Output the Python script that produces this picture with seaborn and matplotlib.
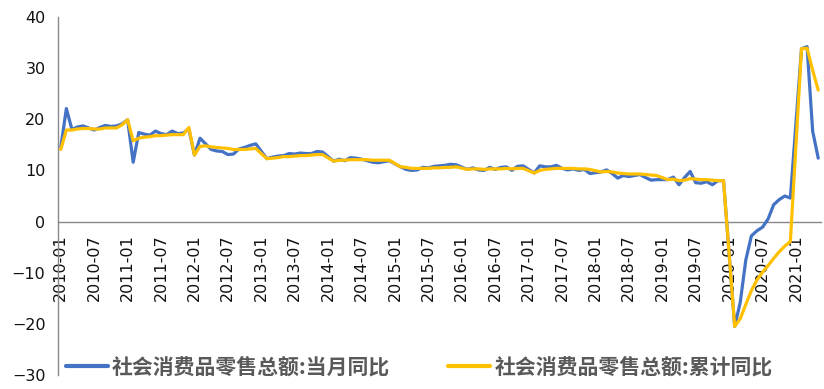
import numpy as np
import pandas as pd
import matplotlib
matplotlib.use("Agg")
from matplotlib import pyplot as plt
from matplotlib.font_manager import FontProperties
import seaborn as sns

nan = np.nan

# months 2010-01 .. 2021-05
months = [f"{y}-{m:02d}" for y in range(2010, 2022) for m in range(1, 13)][:137]

# 社会消费品零售总额:当月同比 (%)
dangyue = [
    14.5, 22.1, 18.0, 18.5, 18.7, 18.3, 17.9, 18.4, 18.8, 18.6, 18.7, 19.1,
    19.9, 11.6, 17.4, 17.1, 16.9, 17.7, 17.2, 17.0, 17.7, 17.2, 17.3, 18.1,
    13.0, 16.3, 15.2, 14.1, 13.8, 13.7, 13.1, 13.2, 14.2, 14.5, 14.9, 15.2,
    nan, 12.3, 12.6, 12.8, 12.9, 13.3, 13.2, 13.4, 13.3, 13.3, 13.7, 13.6,
    nan, 11.8, 12.2, 11.9, 12.5, 12.4, 12.2, 11.9, 11.6, 11.5, 11.7, 11.9,
    nan, 10.7, 10.2, 10.0, 10.1, 10.6, 10.5, 10.8, 10.9, 11.0, 11.2, 11.1,
    nan, 10.2, 10.5, 10.1, 10.0, 10.6, 10.2, 10.6, 10.7, 10.0, 10.8, 10.9,
    nan, 9.5, 10.9, 10.7, 10.7, 11.0, 10.4, 10.1, 10.3, 10.0, 10.2, 9.4,
    nan, 9.7, 10.1, 9.4, 8.5, 9.0, 8.8, 9.0, 9.2, 8.6, 8.1, 8.2,
    nan, 8.2, 8.7, 7.2, 8.6, 9.8, 7.6, 7.5, 7.8, 7.2, 8.0, 8.0,
    nan, -20.5, -15.8, -7.5, -2.8, -1.8, -1.1, 0.5, 3.3, 4.3, 5.0, 4.6,
    nan, 33.8, 34.2, 17.7, 12.4,
]

# 社会消费品零售总额:累计同比 (%)
leiji = [
    14.1, 17.9, 17.9, 18.1, 18.2, 18.2, 18.1, 18.1, 18.3, 18.3, 18.3, 18.9,
    19.9, 15.8, 16.3, 16.5, 16.6, 16.8, 16.8, 16.9, 17.0, 17.0, 17.0, 18.4,
    13.0, 14.7, 14.8, 14.6, 14.5, 14.4, 14.3, 14.1, 14.1, 14.1, 14.2, 14.3,
    nan, 12.3, 12.4, 12.5, 12.7, 12.7, 12.8, 12.9, 12.9, 13.0, 13.1, 13.1,
    nan, 11.8, 12.0, 12.0, 12.1, 12.1, 12.1, 12.1, 12.0, 12.0, 12.0, 12.0,
    nan, 10.7, 10.6, 10.4, 10.4, 10.4, 10.4, 10.5, 10.5, 10.6, 10.6, 10.7,
    nan, 10.2, 10.3, 10.3, 10.2, 10.3, 10.3, 10.3, 10.4, 10.3, 10.4, 10.4,
    nan, 9.5, 10.0, 10.2, 10.3, 10.4, 10.4, 10.4, 10.4, 10.3, 10.3, 10.2,
    nan, 9.7, 9.8, 9.7, 9.5, 9.4, 9.3, 9.3, 9.3, 9.2, 9.1, 9.0,
    nan, 8.2, 8.3, 8.0, 8.1, 8.4, 8.3, 8.2, 8.2, 8.1, 8.0, 8.0,
    nan, -20.5, -19.0, -16.2, -13.5, -11.4, -9.9, -8.6, -7.2, -5.9, -4.8, -3.9,
    nan, 33.8, 33.9, 29.6, 25.7,
]

label_dy = "社会消费品零售总额:当月同比"
label_lj = "社会消费品零售总额:累计同比"

df = pd.DataFrame({"month": months, "dangyue": dangyue, "leiji": leiji})
df["idx"] = np.arange(len(df))

sns.set_style("white")
plt.rcParams["font.family"] = ["DejaVu Sans", "Noto Sans CJK SC"]

fig = plt.figure(figsize=(8.24, 3.89), dpi=100)
ax = fig.add_axes([58 / 824, 1 - 375 / 389, (821 - 58) / 824, (375 - 17) / 389])

# x axis crosses at 0 (set before tick styling, it resets the ticks)
for s in ["top", "right"]:
    ax.spines[s].set_visible(False)
ax.spines["bottom"].set_position(("data", 0))
for s in ["left", "bottom"]:
    ax.spines[s].set_color("#898989")
    ax.spines[s].set_linewidth(1)

# Excel connects across empty months, so drop them before drawing
d1 = df.dropna(subset=["dangyue"])
d2 = df.dropna(subset=["leiji"])
sns.lineplot(data=d1, x="idx", y="dangyue", color="#4472C4", linewidth=2.3,
             label=label_dy, ax=ax, zorder=3)
sns.lineplot(data=d2, x="idx", y="leiji", color="#FFC000", linewidth=2.3,
             label=label_lj, ax=ax, zorder=3.1)

ax.set_xlim(-0.5, len(df) - 0.5)
ax.set_ylim(-30, 40)
ax.set_yticks(range(-30, 41, 10))
ax.set_xlabel("")
ax.set_ylabel("")

# labels centred on categories, tick marks between them
pos = list(range(0, len(df), 6))
ax.set_xticks(pos)
ax.set_xticklabels([months[i] for i in pos])
ax.set_xticks([p - 0.5 for p in pos], minor=True)
ax.tick_params(axis="x", which="major", length=0, pad=9, labelrotation=90,
               labelsize=11.5, labelcolor="#111111")
ax.tick_params(axis="x", which="minor", length=6, width=1, color="#898989", direction="out")
ax.tick_params(axis="y", length=6, width=1, color="#898989", direction="out",
               labelsize=11.5, labelcolor="#111111", pad=3)

handles, labels = ax.get_legend_handles_labels()
if ax.get_legend() is not None:
    ax.get_legend().remove()
prop = FontProperties(family=["Noto Sans CJK SC", "DejaVu Sans"], size=15, weight="bold")
leg = fig.legend(handles, labels, loc="center left", bbox_to_anchor=(66 / 824, 1 - 367 / 389),
                 ncol=2, frameon=False, borderpad=0, borderaxespad=0, handlelength=2.0,
                 handletextpad=0.2, columnspacing=2.8, prop=prop)
for t in leg.get_texts():
    t.set_color("#595959")
for h in leg.get_lines():
    h.set_linewidth(3)

fig.savefig("out.png", dpi=100)
